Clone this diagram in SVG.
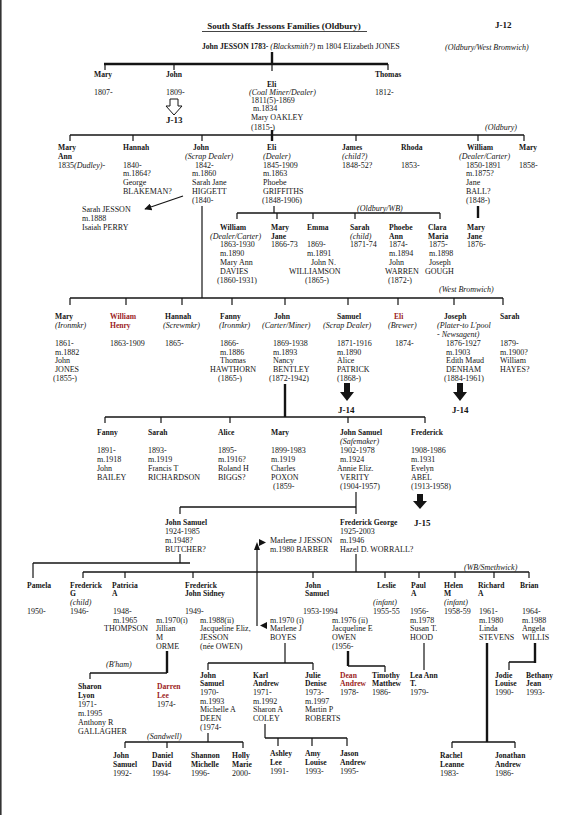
<svg xmlns="http://www.w3.org/2000/svg" width="567" height="815" viewBox="0 0 567 815">
<style>
text{font-family:"Liberation Serif","Times New Roman",serif;font-size:8px;fill:#141414}
.b{font-weight:bold;font-size:7.6px}
.i{font-style:italic}
.r{fill:#9b1c1c}
.h{font-weight:bold;font-size:9px}
.c{stroke:#141414;stroke-width:1.2;fill:none}
.m{stroke-width:1.6}
.k{stroke-width:2.4}
.a{fill:#141414;stroke:none}
.o{fill:#fff;stroke:#141414;stroke-width:1}
</style>
<defs>
<marker id="ah" viewBox="0 0 10 10" refX="9" refY="5" markerWidth="6" markerHeight="6" orient="auto"><path d="M0,0 L10,5 L0,10 z" fill="#141414"/></marker>
</defs>
<rect width="567" height="815" fill="#fff"/>
<line x1="0.8" y1="0" x2="0.8" y2="815" stroke="#333" stroke-width="1.6"/>

<g id="header">
<text x="284" y="29" text-anchor="middle" class="h">South Staffs Jessons Families (Oldbury)</text>
<line x1="202" y1="31.5" x2="367" y2="31.5" stroke="#141414" stroke-width="0.8"/>
<text x="495" y="28" class="h">J-12</text>
<text x="202" y="49"><tspan class="b">John JESSON 1783-</tspan> <tspan class="i">(Blacksmith?)</tspan>  m 1804 Elizabeth JONES</text>
<text x="445" y="50" class="i" font-size="7.5">(Oldbury/West Bromwich)</text>
</g>

<g id="connectors">
<path class="c k" d="M272,52 V64"/>
<path class="c k" d="M104,64 H388"/>
<path class="c" d="M105,64 V70 M174,64 V70 M272,64 V71 M388,64 V70"/>
<polygon class="o" points="170,99 178,99 178,106 182,106 174,115 166,106 170,106"/>
<path class="c k" d="M272,130 V135"/>
<path class="c m" d="M70,135 H524"/>
<path class="c" d="M70,135 V141 M133,135 V141 M202,135 V141 M356,135 V141 M478,135 V141 M524,135 V141"/>
<path class="c k" d="M272,135 V141"/>
<path class="c" d="M183,196 L145,209" marker-end="url(#ah)"/>
<path class="c" d="M202,206 V298"/>
<path class="c" d="M274,206 V213"/>
<path class="c m" d="M237,213 H440"/>
<path class="c" d="M237,213 V219 M277,213 V219 M313,213 V219 M355,213 V219 M440,213 V219"/>
<path class="c k" d="M478,206 V218"/>
<path class="c m" d="M70,298 H503"/>
<path class="c" d="M70,298 V305 M126,298 V305 M182,298 V305 M232,298 V305 M285,298 V305 M348,298 V305 M398,298 V305 M454,298 V305 M503,298 V305"/>
<polygon class="a" points="344,383 350,383 350,392 354,392 347,401 340,392 344,392"/>
<polygon class="a" points="457,383 463,383 463,392 467,392 460,401 453,392 457,392"/>
<path class="c k" d="M285,384 V417"/>
<path class="c m" d="M105,417 H425"/>
<path class="c" d="M105,417 V423 M161,417 V423 M230,417 V423 M348,417 V423 M425,417 V423"/>
<polygon class="a" points="417,494 423,494 423,501 427,501 420,509 413,501 417,501"/>
<path class="c" d="M356,492 V514"/>
<path class="c m" d="M180,507 H356"/>
<path class="c" d="M180,507 V514"/>
<path class="c" d="M180,554 V563"/>
<path class="c m" d="M33,563 H190"/>
<path class="c" d="M33,563 V578"/>
<path class="c" d="M356,554 V572"/>
<path class="c m" d="M83,572 H529"/>
<path class="c" d="M83,572 V578 M125,572 V578 M193,572 V578 M313,572 V578 M385,572 V578 M419,572 V578 M455,572 V578 M494,572 V578 M529,572 V578"/>
<path class="c" d="M257,548 V626"/>
<polygon class="a" points="257,542 254,550 260,550"/>
<polygon class="a" points="266,542.5 259,539 259,546"/>
<polygon class="a" points="260,625.5 267,622 267,629"/>
<path class="c k" d="M167,651 V673"/>
<path class="c m" d="M90,673 H167"/>
<path class="c" d="M90,673 V679"/>
<path class="c" d="M285,643 V663"/>
<path class="c m" d="M208,663 H313"/>
<path class="c" d="M208,663 V670 M313,663 V670"/>
<path class="c k" d="M348,651 V666"/>
<path class="c m" d="M348,666 H385"/>
<path class="c" d="M385,666 V672"/>
<path class="c" d="M424,643 V670"/>
<path class="c k" d="M535,643 V663"/>
<path class="c m" d="M509,662 H535"/>
<path class="c" d="M509,662 V670"/>
<path class="c k" d="M487,643 V742"/>
<path class="c m" d="M452,742 H515"/>
<path class="c" d="M452,742 V748 M515,742 V748"/>
<path class="c" d="M208,733 V742"/>
<path class="c m" d="M125,742 H243"/>
<path class="c" d="M125,742 V748 M167,742 V748 M243,742 V748"/>
<path class="c" d="M265,724 V738"/>
<path class="c m" d="M265,738 H347"/>
<path class="c" d="M278,738 V746 M312,738 V746 M347,738 V746"/>
</g>

<g id="labels" class="i">
<text x="485" y="130" class="i" font-size="7.5">(Oldbury)</text>
<text x="357" y="211" class="i" font-size="7.5">(Oldbury/WB)</text>
<text x="439" y="292" class="i" font-size="7.5">(West Bromwich)</text>
<text x="464" y="570" class="i" font-size="7.5">(WB/Smethwick)</text>
<text x="106" y="667" class="i" font-size="7.5">(B'ham)</text>
<text x="147" y="739" class="i" font-size="7.5">(Sandwell)</text>
</g>

<g id="g1-mary"><text x="94" y="77" class="b">Mary</text><text x="94" y="95">1807-</text></g>
<g id="g1-john"><text x="166" y="77" class="b">John</text><text x="166" y="95">1809-</text><text x="166" y="123" class="h">J-13</text></g>
<g id="g1-eli"><text x="267" y="87" class="b">Eli</text><text x="249" y="95" class="i">(Coal Miner/Dealer)</text><text x="251" y="103">1811(5)-1869</text><text x="253" y="111">m.1834</text><text x="251" y="120">Mary OAKLEY</text><text x="251" y="130">(1815-)</text></g>
<g id="g1-thomas"><text x="375" y="77" class="b">Thomas</text><text x="375" y="95">1812-</text></g>

<g id="g2-maryann"><text x="58" y="150" class="b">Mary</text><text x="58" y="159" class="b">Ann</text><text x="58" y="168">1835<tspan class="i">(Dudley)</tspan>-</text></g>
<g id="g2-hannah"><text x="123" y="150" class="b">Hannah</text><text x="123" y="168">1840-</text><text x="123" y="176">m.1864?</text><text x="123" y="185">George</text><text x="123" y="194">BLAKEMAN?</text></g>
<g id="g2-john"><text x="193" y="150" class="b">John</text><text x="185" y="159" class="i">(Scrap Dealer)</text><text x="195" y="168">1842-</text><text x="192" y="176">m.1860</text><text x="192" y="185">Sarah Jane</text><text x="192" y="194">HIGGETT</text><text x="192" y="203">(1840-</text></g>
<g id="g2-eli"><text x="267" y="150" class="b">Eli</text><text x="263" y="159" class="i">(Dealer)</text><text x="263" y="168">1845-1909</text><text x="263" y="176">m.1863</text><text x="263" y="185">Phoebe</text><text x="263" y="194">GRIFFITHS</text><text x="262" y="203">(1848-1906)</text></g>
<g id="g2-james"><text x="342" y="150" class="b">James</text><text x="342" y="159" class="i">(child?)</text><text x="342" y="168">1848-52?</text></g>
<g id="g2-rhoda"><text x="401" y="150" class="b">Rhoda</text><text x="401" y="168">1853-</text></g>
<g id="g2-william"><text x="467" y="150" class="b">William</text><text x="459" y="159" class="i">(Dealer/Carter)</text><text x="466" y="168">1850-1891</text><text x="466" y="176">m.1875?</text><text x="466" y="185">Jane</text><text x="466" y="194">BALL?</text><text x="466" y="203">(1848-)</text></g>
<g id="g2-mary"><text x="519" y="150" class="b">Mary</text><text x="519" y="168">1858-</text></g>
<g id="sarah-jesson"><text x="82" y="212">Sarah JESSON</text><text x="82" y="221">m.1888</text><text x="82" y="230">Isaiah PERRY</text></g>

<g id="g3-william"><text x="220" y="230" class="b">William</text><text x="210" y="239" class="i">(Dealer/Carter)</text><text x="220" y="247">1863-1930</text><text x="220" y="256">m.1890</text><text x="220" y="265">Mary Ann</text><text x="220" y="274">DAVIES</text><text x="217" y="283">(1860-1931)</text></g>
<g id="g3-maryjane"><text x="271" y="230" class="b">Mary</text><text x="271" y="239" class="b">Jane</text><text x="271" y="247">1866-73</text></g>
<g id="g3-emma"><text x="307" y="230" class="b">Emma</text><text x="307" y="247">1869-</text><text x="307" y="256">m.1891</text><text x="311" y="265">John N.</text><text x="289" y="274">WILLIAMSON</text><text x="305" y="283">(1865-)</text></g>
<g id="g3-sarah"><text x="350" y="230" class="b">Sarah</text><text x="350" y="239" class="i">(child)</text><text x="350" y="247">1871-74</text></g>
<g id="g3-phoebe"><text x="389" y="230" class="b">Phoebe</text><text x="389" y="239" class="b">Ann</text><text x="389" y="247">1874-</text><text x="389" y="256">m.1894</text><text x="389" y="265">John</text><text x="385" y="274">WARREN</text><text x="388" y="283">(1872-)</text></g>
<g id="g3-clara"><text x="428" y="230" class="b">Clara</text><text x="428" y="239" class="b">Maria</text><text x="429" y="247">1875-</text><text x="429" y="256">m.1898</text><text x="429" y="265">Joseph</text><text x="425" y="274">GOUGH</text></g>
<g id="g3-maryjane2"><text x="467" y="230" class="b">Mary</text><text x="467" y="239" class="b">Jane</text><text x="467" y="247">1876-</text></g>

<g id="g3-mary"><text x="55" y="319" class="b">Mary</text><text x="55" y="328" class="i">(Ironmkr)</text><text x="55" y="346">1861-</text><text x="55" y="355">m.1882</text><text x="55" y="363">John</text><text x="55" y="372">JONES</text><text x="53" y="381">(1855-)</text></g>
<g id="g3-williamhenry"><text x="110" y="319" class="b r">William</text><text x="110" y="328" class="b r">Henry</text><text x="110" y="346">1863-1909</text></g>
<g id="g3-hannah"><text x="165" y="319" class="b">Hannah</text><text x="163" y="328" class="i">(Screwmkr)</text><text x="165" y="346">1865-</text></g>
<g id="g3-fanny"><text x="220" y="319" class="b">Fanny</text><text x="219" y="328" class="i">(Ironmkr)</text><text x="220" y="346">1866-</text><text x="220" y="355">m.1886</text><text x="220" y="363">Thomas</text><text x="210" y="372">HAWTHORN</text><text x="218" y="381">(1865-)</text></g>
<g id="g3-john"><text x="274" y="319" class="b">John</text><text x="262" y="328" class="i">(Carter/Miner)</text><text x="273" y="346">1869-1938</text><text x="273" y="355">m.1893</text><text x="273" y="363">Nancy</text><text x="273" y="372">BENTLEY</text><text x="269" y="381">(1872-1942)</text></g>
<g id="g3-samuel"><text x="337" y="319" class="b">Samuel</text><text x="323" y="328" class="i">(Scrap Dealer)</text><text x="337" y="346">1871-1916</text><text x="337" y="355">m.1890</text><text x="337" y="363">Alice</text><text x="337" y="372">PATRICK</text><text x="337" y="381">(1868-)</text><text x="338" y="413" class="h">J-14</text></g>
<g id="g3-eli"><text x="394" y="319" class="b r">Eli</text><text x="388" y="328" class="i">(Brewer)</text><text x="395" y="346">1874-</text></g>
<g id="g3-joseph"><text x="444" y="319" class="b">Joseph</text><text x="437" y="328" class="i">(Plater-to L'pool</text><text x="437" y="337" class="i">- Newsagent)</text><text x="446" y="346">1876-1927</text><text x="446" y="355">m.1903</text><text x="446" y="363">Edith Maud</text><text x="446" y="372">DENHAM</text><text x="444" y="381">(1884-1961)</text><text x="452" y="413" class="h">J-14</text></g>
<g id="g3-sarah2"><text x="500" y="319" class="b">Sarah</text><text x="500" y="346">1879-</text><text x="500" y="355">m.1900?</text><text x="500" y="363">William</text><text x="500" y="372">HAYES?</text></g>

<g id="g4-fanny"><text x="97" y="435" class="b">Fanny</text><text x="97" y="453">1891-</text><text x="97" y="462">m.1918</text><text x="97" y="471">John</text><text x="97" y="480">BAILEY</text></g>
<g id="g4-sarah"><text x="148" y="435" class="b">Sarah</text><text x="148" y="453">1893-</text><text x="148" y="462">m.1919</text><text x="148" y="471">Francis T</text><text x="148" y="480">RICHARDSON</text></g>
<g id="g4-alice"><text x="218" y="435" class="b">Alice</text><text x="218" y="453">1895-</text><text x="218" y="462">m.1916?</text><text x="218" y="471">Roland H</text><text x="218" y="480">BIGGS?</text></g>
<g id="g4-mary"><text x="271" y="435" class="b">Mary</text><text x="271" y="453">1899-1983</text><text x="271" y="462">m.1919</text><text x="271" y="471">Charles</text><text x="271" y="480">POXON</text><text x="273" y="489">(1859-</text></g>
<g id="g4-johnsamuel"><text x="340" y="435" class="b">John Samuel</text><text x="340" y="444" class="i">(Safemaker)</text><text x="340" y="453">1902-1978</text><text x="340" y="462">m.1924</text><text x="337" y="471">Annie Eliz.</text><text x="340" y="480">VERITY</text><text x="340" y="489">(1904-1957)</text></g>
<g id="g4-frederick"><text x="411" y="435" class="b">Frederick</text><text x="411" y="453">1908-1986</text><text x="411" y="462">m.1931</text><text x="411" y="471">Evelyn</text><text x="411" y="480">ABEL</text><text x="411" y="489">(1913-1958)</text><text x="414" y="526" class="h">J-15</text></g>

<g id="g5-johnsamuel"><text x="165" y="525" class="b">John Samuel</text><text x="165" y="534">1924-1985</text><text x="165" y="543">m.1948?</text><text x="165" y="552">BUTCHER?</text></g>
<g id="g5-marlene"><text x="270" y="543">Marlene J JESSON</text><text x="270" y="552">m.1980 BARBER</text></g>
<g id="g5-frederickgeorge"><text x="340" y="525" class="b">Frederick George</text><text x="340" y="534">1925-2003</text><text x="340" y="543">m.1946</text><text x="340" y="552">Hazel D. WORRALL?</text></g>

<g id="g6-pamela"><text x="27" y="588" class="b">Pamela</text><text x="27" y="614">1950-</text></g>
<g id="g6-frederickg"><text x="70" y="588" class="b">Frederick</text><text x="70" y="596" class="b">G</text><text x="70" y="605" class="i">(child)</text><text x="70" y="614">1946-</text></g>
<g id="g6-patricia"><text x="112" y="588" class="b">Patricia</text><text x="112" y="596" class="b">A</text><text x="113" y="614">1948-</text><text x="113" y="623">m.1965</text><text x="104" y="631">THOMPSON</text></g>
<g id="g6-frederickjs"><text x="185" y="588" class="b">Frederick</text><text x="185" y="596" class="b">John Sidney</text><text x="185" y="614">1949-</text><text x="156" y="623">m.1970(i)</text><text x="156" y="631">Jillian</text><text x="156" y="640">M</text><text x="156" y="649">ORME</text><text x="200" y="623">m.1988(ii)</text><text x="200" y="631">Jacqueline Eliz,</text><text x="200" y="640">JESSON</text><text x="200" y="649">(née OWEN)</text></g>
<g id="g6-johnsamuel"><text x="305" y="588" class="b">John</text><text x="305" y="596" class="b">Samuel</text><text x="303" y="614">1953-1994</text><text x="270" y="623">m.1970 (i)</text><text x="270" y="631">Marlene J</text><text x="270" y="640">BOYES</text><text x="332" y="623">m.1976 (ii)</text><text x="332" y="631">Jacqueline E</text><text x="332" y="640">OWEN</text><text x="332" y="649">(1956-</text></g>
<g id="g6-leslie"><text x="377" y="588" class="b">Leslie</text><text x="373" y="605" class="i">(infant)</text><text x="373" y="614">1955-55</text></g>
<g id="g6-paul"><text x="411" y="588" class="b">Paul</text><text x="411" y="596" class="b">A</text><text x="410" y="614">1956-</text><text x="410" y="623">m.1978</text><text x="410" y="631">Susan T.</text><text x="410" y="640">HOOD</text></g>
<g id="g6-helen"><text x="444" y="588" class="b">Helen</text><text x="444" y="596" class="b">M</text><text x="444" y="605" class="i">(infant)</text><text x="444" y="614">1958-59</text></g>
<g id="g6-richard"><text x="478" y="588" class="b">Richard</text><text x="478" y="596" class="b">A</text><text x="479" y="614">1961-</text><text x="479" y="623">m.1980</text><text x="479" y="631">Linda</text><text x="479" y="640">STEVENS</text></g>
<g id="g6-brian"><text x="520" y="588" class="b">Brian</text><text x="522" y="614">1964-</text><text x="522" y="623">m.1988</text><text x="522" y="631">Angela</text><text x="522" y="640">WILLIS</text></g>

<g id="g7-sharon"><text x="78" y="689" class="b">Sharon</text><text x="78" y="698" class="b">Lyon</text><text x="78" y="707">1971-</text><text x="78" y="716">m.1995</text><text x="78" y="725">Anthony R</text><text x="78" y="734">GALLAGHER</text></g>
<g id="g7-darren"><text x="157" y="689" class="b r">Darren</text><text x="157" y="698" class="b r">Lee</text><text x="157" y="707">1974-</text></g>
<g id="g7-johnsamuel"><text x="200" y="678" class="b">John</text><text x="200" y="686" class="b">Samuel</text><text x="200" y="695">1970-</text><text x="200" y="704">m.1993</text><text x="200" y="712">Michelle A</text><text x="200" y="721">DEEN</text><text x="200" y="730">(1974-</text></g>
<g id="g7-karl"><text x="253" y="678" class="b">Karl</text><text x="253" y="686" class="b">Andrew</text><text x="253" y="695">1971-</text><text x="253" y="704">m.1992</text><text x="253" y="712">Sharon A</text><text x="253" y="721">COLEY</text></g>
<g id="g7-julie"><text x="305" y="678" class="b">Julie</text><text x="305" y="686" class="b">Denise</text><text x="305" y="695">1973-</text><text x="305" y="704">m.1997</text><text x="305" y="712">Martin P</text><text x="305" y="721">ROBERTS</text></g>
<g id="g7-dean"><text x="340" y="678" class="b r">Dean</text><text x="340" y="686" class="b r">Andrew</text><text x="340" y="695">1978-</text></g>
<g id="g7-timothy"><text x="372" y="678" class="b">Timothy</text><text x="372" y="686" class="b">Matthew</text><text x="372" y="695">1986-</text></g>
<g id="g7-leaann"><text x="410" y="678" class="b">Lea Ann</text><text x="410" y="686" class="b">T.</text><text x="410" y="695">1979-</text></g>
<g id="g7-jodie"><text x="495" y="678" class="b">Jodie</text><text x="495" y="686" class="b">Louise</text><text x="495" y="695">1990-</text></g>
<g id="g7-bethany"><text x="526" y="678" class="b">Bethany</text><text x="526" y="686" class="b">Jean</text><text x="526" y="695">1993-</text></g>

<g id="g8-johnsamuel"><text x="113" y="758" class="b">John</text><text x="113" y="767" class="b">Samuel</text><text x="113" y="776">1992-</text></g>
<g id="g8-daniel"><text x="152" y="758" class="b">Daniel</text><text x="152" y="767" class="b">David</text><text x="152" y="776">1994-</text></g>
<g id="g8-shannon"><text x="191" y="758" class="b">Shannon</text><text x="191" y="767" class="b">Michelle</text><text x="191" y="776">1996-</text></g>
<g id="g8-holly"><text x="232" y="758" class="b">Holly</text><text x="232" y="767" class="b">Marie</text><text x="232" y="776">2000-</text></g>
<g id="g8-ashley"><text x="270" y="756" class="b">Ashley</text><text x="270" y="765" class="b">Lee</text><text x="270" y="774">1991-</text></g>
<g id="g8-amy"><text x="305" y="756" class="b">Amy</text><text x="305" y="765" class="b">Louise</text><text x="305" y="774">1993-</text></g>
<g id="g8-jason"><text x="340" y="756" class="b">Jason</text><text x="340" y="765" class="b">Andrew</text><text x="340" y="774">1995-</text></g>
<g id="g8-rachel"><text x="440" y="758" class="b">Rachel</text><text x="440" y="767" class="b">Leanne</text><text x="440" y="776">1983-</text></g>
<g id="g8-jonathan"><text x="495" y="758" class="b">Jonathan</text><text x="495" y="767" class="b">Andrew</text><text x="495" y="776">1986-</text></g>
</svg>
